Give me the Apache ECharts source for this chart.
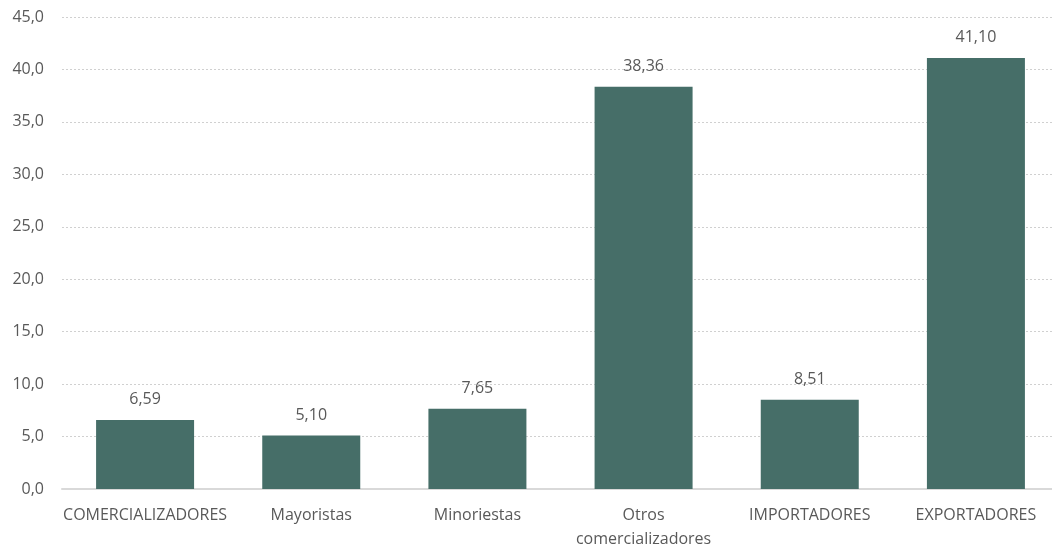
<!DOCTYPE html>
<html><head><meta charset="utf-8">
<script src="https://cdn.jsdelivr.net/npm/echarts@6/dist/echarts.min.js"></script>
<style>html,body{margin:0;padding:0;background:#fff;overflow:hidden}#c{width:1052px;height:545px}</style>
</head><body><div id="c"></div>
<script>
const categories = ['COMERCIALIZADORES','Mayoristas','Minoriestas','Otros\ncomercializadores','IMPORTADORES','EXPORTADORES'];
const values = [6.59, 5.10, 7.65, 38.36, 8.51, 41.10];
const yMin = 0, yMax = 45, yStep = 5;
const font = '"Open Sans", "Noto Sans", sans-serif';
const chart = echarts.init(document.getElementById('c'), null, {renderer:'canvas'});
chart.setOption({
  animation:false,
  grid:{left:62, top:17, width:997, height:472, containLabel:false, outerBoundsMode:'none'},
  xAxis:{type:'category', data:categories,
    axisLine:{lineStyle:{color:'#d9d9d9', width:2}}, axisTick:{show:false},
    axisLabel:{color:'#595959', fontFamily:font, fontSize:16, margin:14, lineHeight:24, interval:0}},
  yAxis:{type:'value', min:yMin, max:yMax, interval:yStep,
    axisLine:{show:false}, axisTick:{show:false},
    splitLine:{lineStyle:{color:'#d0d0d0', type:[2,2], width:1}},
    axisLabel:{color:'#595959', fontFamily:font, fontSize:16, margin:18,
      formatter:v=>v.toFixed(1).replace('.',',')}},
  series:[{type:'bar', data:values, barWidth:98,
    itemStyle:{color:'#466E68'},
    label:{show:true, position:'top', distance:12, color:'#595959', fontFamily:font, fontSize:16,
      formatter:p=>p.value.toFixed(2).replace('.',',')}}]
});
</script></body></html>
